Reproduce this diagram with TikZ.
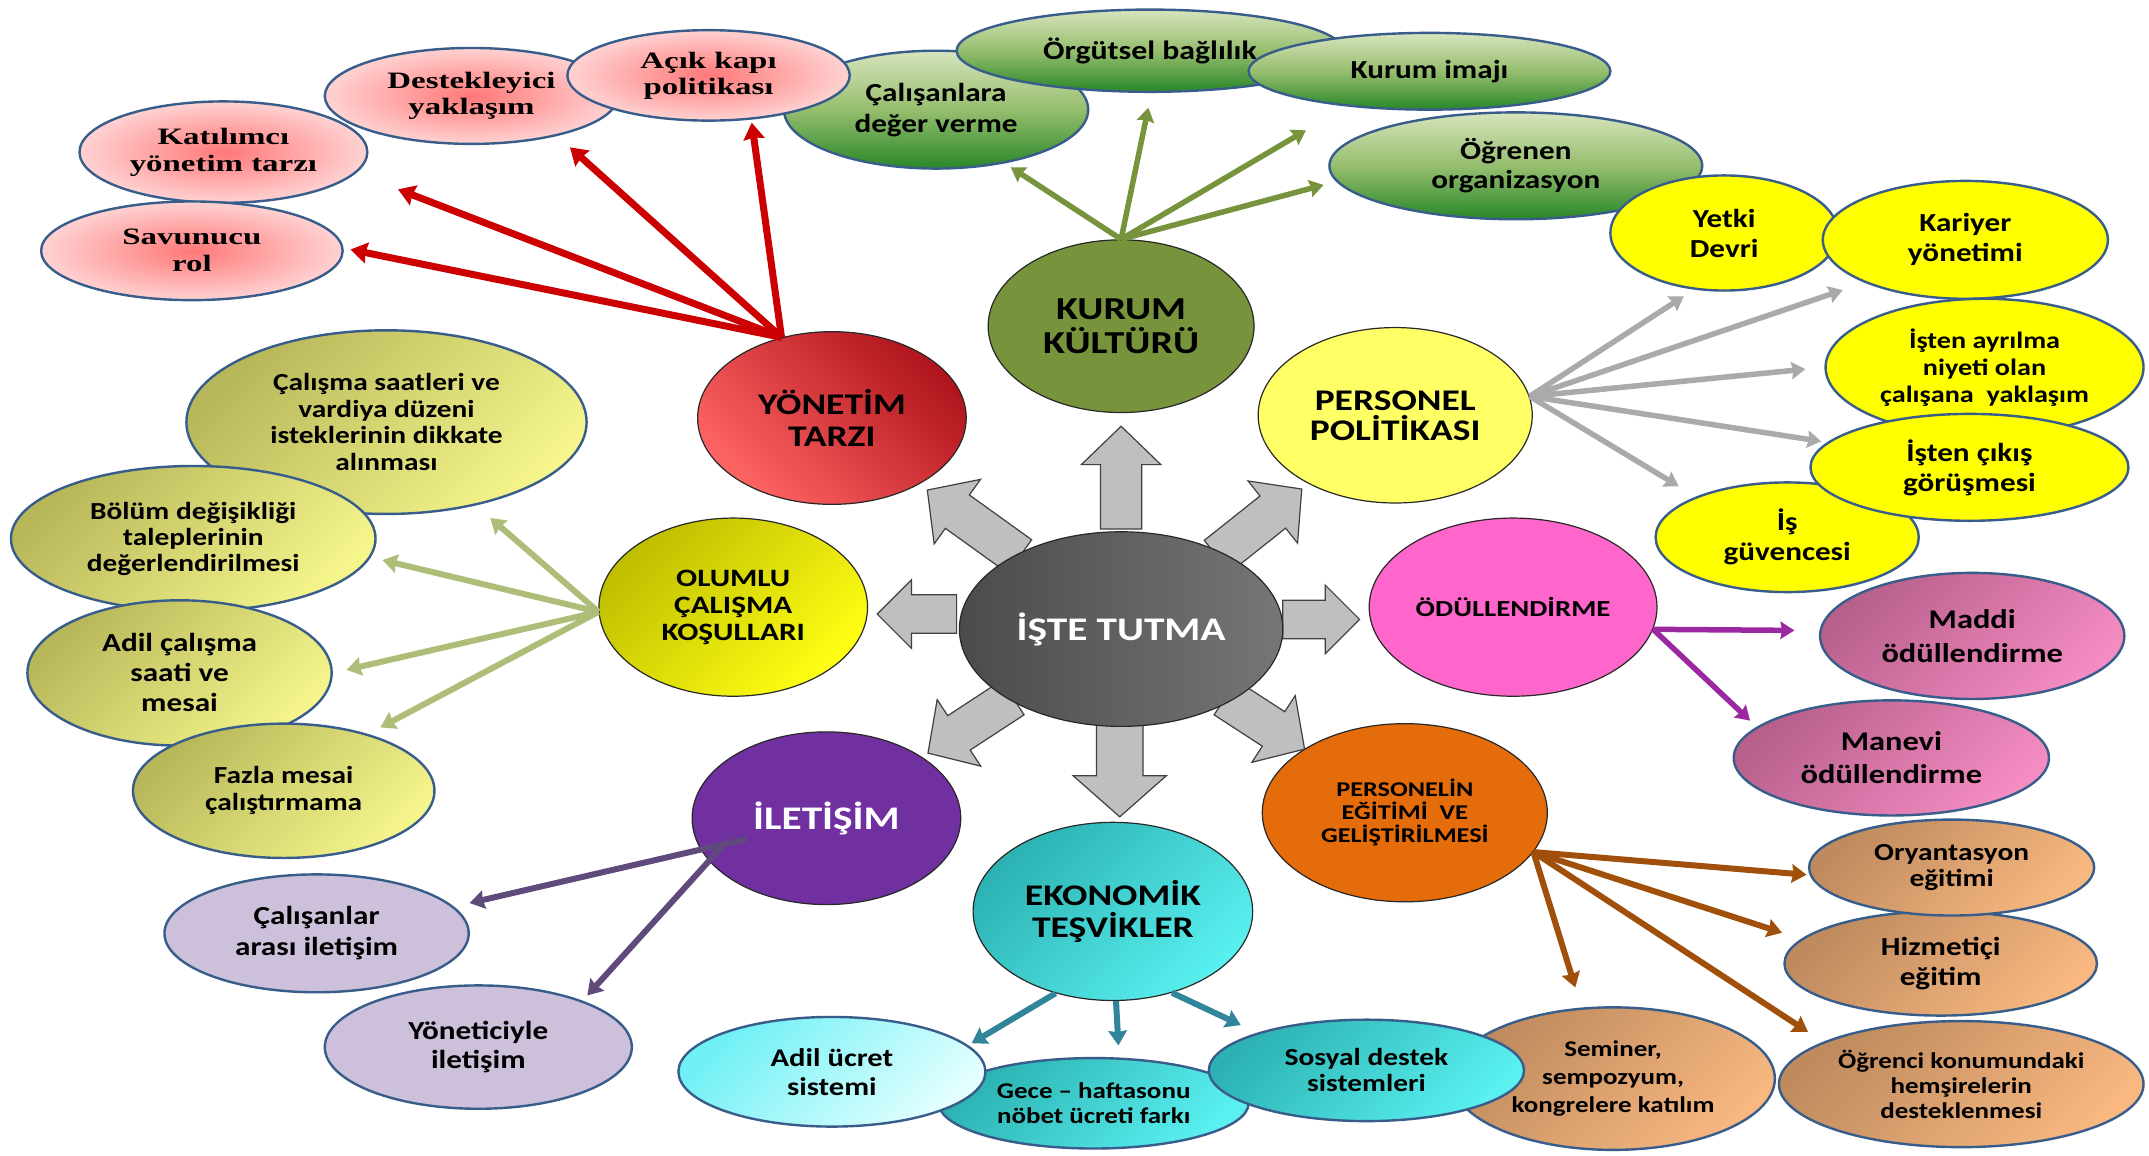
\documentclass[tikz,border=0pt]{standalone}
\usepackage{fontspec}
\setmainfont{Carlito}[FakeStretch=1.2]
\newfontfamily\hubfont{Carlito}[FakeStretch=1.25]
\newfontfamily\serfont{Liberation Serif}[FakeStretch=1.4]
\usetikzlibrary{shapes.geometric,arrows.meta}
\newcommand\setfs[2]{\fontsize{#1}{#2}\selectfont}

% outlines
\definecolor{leafline}{RGB}{56,93,138}
\definecolor{hubline}{RGB}{40,40,40}
% hub fills
\definecolor{redDark}{RGB}{176,20,28}
\definecolor{redLight}{RGB}{255,100,100}
\definecolor{kurGreen}{RGB}{119,147,60}
\definecolor{perYellow}{RGB}{255,255,102}
\definecolor{oduPink}{RGB}{255,102,204}
\definecolor{egiOrange}{RGB}{228,108,10}
\definecolor{ekoA}{RGB}{44,178,178}
\definecolor{ekoB}{RGB}{90,240,240}
\definecolor{ilePurple}{RGB}{112,48,160}
\definecolor{oluA}{RGB}{190,190,0}
\definecolor{oluB}{RGB}{255,255,20}
\definecolor{coreA}{RGB}{75,75,75}
\definecolor{coreB}{RGB}{118,118,118}
% leaf fills
\definecolor{lrIn}{RGB}{255,120,120}
\definecolor{lrOut}{RGB}{255,210,210}
\definecolor{grnTop}{RGB}{215,228,189}
\definecolor{grnMid}{RGB}{150,190,110}
\definecolor{grnBot}{RGB}{40,135,40}
\definecolor{yel}{RGB}{255,255,0}
\definecolor{mauveA}{RGB}{184,96,140}
\definecolor{mauveB}{RGB}{244,140,194}
\definecolor{tanA}{RGB}{190,138,94}
\definecolor{tanB}{RGB}{248,184,128}
\definecolor{cyLtA}{RGB}{110,240,245}
\definecolor{cyLtB}{RGB}{228,255,255}
\definecolor{lav}{RGB}{204,192,218}
\definecolor{khA}{RGB}{183,183,90}
\definecolor{khB}{RGB}{245,245,140}
% connector colours
\definecolor{redAr}{RGB}{204,0,0}
\definecolor{grnAr}{RGB}{119,147,60}
\definecolor{grayAr}{RGB}{170,170,170}
\definecolor{purAr}{RGB}{155,40,160}
\definecolor{brnAr}{RGB}{160,80,10}
\definecolor{tealAr}{RGB}{49,133,155}
\definecolor{lavAr}{RGB}{96,74,123}
\definecolor{khAr}{RGB}{174,190,120}
\definecolor{blkFill}{RGB}{191,191,191}
\definecolor{blkLine}{RGB}{64,64,64}

\begin{document}
\begin{tikzpicture}[x=1.3705pt,y=-1.3705pt,
  sz/.style 2 args={minimum width={#1*2.741pt},minimum height={#2*2.741pt}},
  hub/.style={ellipse,draw=hubline,line width=1.2pt,inner sep=0pt,align=center},
  leaf/.style={ellipse,draw=leafline,line width=2.4pt,inner sep=0pt,align=center},
  hf/.style 2 args={font=\hubfont\bfseries\setfs{#1}{#2}},
  lf/.style 2 args={font=\bfseries\setfs{#1}{#2}},
  sf/.style 2 args={font=\serfont\bfseries\setfs{#1}{#2}},
  redleaf/.style={leaf,inner color=lrIn,outer color=lrOut},
  grnleaf/.style={leaf,top color=grnTop,bottom color=grnBot,middle color=grnMid},
  yelleaf/.style={leaf,fill=yel},
  mauleaf/.style={leaf,top color=mauveA,bottom color=mauveB,shading angle=45},
  tanleaf/.style={leaf,top color=tanA,bottom color=tanB,shading angle=45},
  cyleaf/.style={leaf,top color=ekoA,bottom color=ekoB,shading angle=45},
  cyltleaf/.style={leaf,top color=cyLtA,bottom color=cyLtB,shading angle=45},
  lavleaf/.style={leaf,fill=lav},
  khleaf/.style={leaf,top color=khA,bottom color=khB,shading angle=45},
  headtip/.style={-{Stealth[length=4pt 1.8,width=4pt 2.4,inset=1.5pt]}},
  redar/.style={draw=redAr,line width=7pt,headtip},
  grnar/.style={draw=grnAr,line width=5.5pt,headtip},
  grayar/.style={draw=grayAr,line width=5.5pt,headtip},
  purar/.style={draw=purAr,line width=5.5pt,headtip},
  brnar/.style={draw=brnAr,line width=6pt,headtip},
  tealar/.style={draw=tealAr,line width=6pt,headtip},
  lavar/.style={draw=lavAr,line width=6pt,headtip},
  khar/.style={draw=khAr,line width=6pt,headtip},
  blockfill/.style={fill=blkFill,draw=blkLine,line width=1.2pt,line join=miter},
  pics/blk/.style n args={4}{code={
    \draw[blockfill] (0,-#2) -- ({#1-#4},-#2) -- ({#1-#4},-#3) -- (#1,0)
      -- ({#1-#4},#3) -- ({#1-#4},#2) -- (0,#2) -- cycle;}}
]
\useasboundingbox (0,0) rectangle (1568,843);
\fill[white] (0,0) rectangle (1568,843);

% ---------- outer ring of topics ----------
% kurum kültürü
\node[grnleaf,sz={111}{43},lf={26}{31}] (cal) at (683,80) {Çalışanlara\\değer verme};
\node[grnleaf,sz={141}{30},lf={26.5}{30}] (org) at (839,37) {Örgütsel bağlılık};
\node[grnleaf,sz={132}{28},lf={26}{30}] (kim) at (1043,52) {Kurum imajı};
\node[grnleaf,sz={136}{39},lf={26}{29}] (ogr) at (1106,121) {Öğrenen\\organizasyon};
% yönetim tarzı
\node[redleaf,sz={107}{35},sf={23.5}{26}] (des) at (344,70) {Destekleyici\\yaklaşım};
\node[redleaf,sz={103}{33},sf={23.5}{26}] (acik) at (517,55) {Açık kapı\\politikası};
\node[redleaf,sz={105}{37},sf={23.5}{27}] (kat) at (163,111) {Katılımcı\\yönetim tarzı};
\node[redleaf,sz={110}{36},sf={23.5}{27}] (sav) at (140,183) {Savunucu\\rol};
% personel politikası
\node[yelleaf,sz={83}{42},lf={26}{30}] (yet) at (1258,170) {Yetki\\Devri};
\node[yelleaf,sz={104}{43},lf={26}{30}] (kar) at (1434,175) {Kariyer\\yönetimi};
\node[yelleaf,sz={116}{50},lf={23.5}{27}] (ayr) at (1448,268) {İşten ayrılma\\niyeti olan\\çalışana\ \ yaklaşım};
\node[yelleaf,sz={96}{40},lf={26}{30}] (guv) at (1304,392) {İş\\güvencesi};
\node[yelleaf,sz={116}{39},lf={26}{30}] (cik) at (1437,341) {İşten çıkış\\görüşmesi};
% ödüllendirme
\node[mauleaf,sz={111}{46},lf={27}{34}] (mad) at (1439,464) {Maddi\\ödüllendirme};
\node[mauleaf,sz={115}{42},lf={27}{33}] (man) at (1380,553) {Manevi\\ödüllendirme};
% personelin eğitimi
\node[tanleaf,sz={114}{38},lf={26}{30}] (hiz) at (1416,703) {Hizmetiçi\\eğitim};
\node[tanleaf,sz={104}{35},lf={24.5}{26}] (ory) at (1424,633) {Oryantasyon\\eğitimi};
\node[tanleaf,sz={118}{52},lf={22.5}{28}] (sem) at (1177,787) {Seminer,\\sempozyum,\\kongrelere katılım};
\node[tanleaf,sz={133}{46},lf={22.5}{25}] (ogc) at (1431,791) {Öğrenci konumundaki\\hemşirelerin\\desteklenmesi};
% ekonomik teşvikler
\node[cyleaf,sz={113}{33},lf={22.5}{25}] (gec) at (798,805) {Gece – haftasonu\\nöbet ücreti farkı};
\node[cyltleaf,sz={112}{40},lf={25.5}{29}] (adl) at (607,782) {Adil ücret\\sistemi};
\node[cyleaf,sz={115}{37},lf={24.5}{26}] (sos) at (997,781) {Sosyal destek\\sistemleri};
% iletişim
\node[lavleaf,sz={111}{43},lf={26}{31}] (cai) at (231,681) {Çalışanlar\\arası iletişim};
\node[lavleaf,sz={112}{45},lf={26}{29}] (ytc) at (349,764) {Yöneticiyle\\iletişim};
% olumlu çalışma koşulları
\node[khleaf,sz={146}{67},lf={24.5}{26.5}] (cs) at (282,308) {Çalışma saatleri ve\\vardiya düzeni\\isteklerinin dikkate\\alınması};
\node[khleaf,sz={133}{53},lf={24.5}{26}] (bol) at (141,393) {Bölüm değişikliği\\taleplerinin\\değerlendirilmesi};
\node[khleaf,sz={111}{53},lf={26}{30}] (adc) at (131,491) {Adil çalışma\\saati ve\\mesai};
\node[khleaf,sz={110}{49},lf={24.5}{27}] (faz) at (207,577) {Fazla mesai\\çalıştırmama};

% ---------- inner ring of themes ----------
\node[hub,sz={98}{63},top color=redDark,bottom color=redLight,shading angle=-45,hf={30}{32}] (yon) at (607,305) {YÖNETİM\\TARZI};
\node[hub,sz={97}{63},fill=kurGreen,hf={32}{34}] (kur) at (818,238) {KURUM\\KÜLTÜRÜ};
\node[hub,sz={100}{64},fill=perYellow,hf={30}{30}] (per) at (1018,303) {PERSONEL\\POLİTİKASI};
\node[hub,sz={105}{65},fill=oduPink,hf={23}{25}] (odu) at (1104,443) {ÖDÜLLENDİRME};
\node[hub,sz={104}{65},fill=egiOrange,hf={21}{23}] (egi) at (1025,593) {PERSONELİN\\EĞİTİMİ\ \ VE\\GELİŞTİRİLMESİ};
\node[hub,sz={102}{65},top color=ekoA,bottom color=ekoB,shading angle=45,hf={30}{32}] (eko) at (812,665) {EKONOMİK\\TEŞVİKLER};
\node[hub,sz={98}{63},fill=ilePurple,text=white,hf={33}{35}] (ile) at (603,597) {İLETİŞİM};
\node[hub,sz={98}{65},top color=oluA,bottom color=oluB,shading angle=45,hf={25}{27}] (olu) at (535,443) {OLUMLU\\ÇALIŞMA\\KOŞULLARI};

% ---------- connectors from themes to topics ----------
\foreach \t/\a/\s in {sav/1.5/7,kat/-9.4/45,des/-25.3/17,acik/-46.8/3}
  \draw[redar,shorten >=\s pt] (yon.122) -- (\t.\a);
\foreach \t/\a/\s in {cal/-38.9/7,org/-88.6/15,kim/-157.8/47,ogr/-175.5/13}
  \draw[grnar,shorten >=\s pt] (kur.90) -- (\t.\a);
\foreach \t/\a/\s in {yet/-118.4/12,kar/-157.4/23,ayr/180/19,cik/170/6,guv/156.1/20}
  \draw[grayar,shorten >=\s pt] (per.8) -- (\t.\a);
\foreach \t/\a/\s in {mad/178/25,man/167.6/9}
  \draw[purar,shorten >=\s pt] (odu.-9) -- (\t.\a);
\foreach \t/\a/\s in {ory/-177.3/3,hiz/170.2/20,sem/114/21,ogc/163.3/18}
  \draw[brnar,shorten >=\s pt] (egi.-17) -- (\t.\a);
\draw[tealar,shorten >=4pt] (eko.-125) -- (adl.11.2);
\draw[tealar,shorten >=12pt] (eko.-88) -- (gec.61.2);
\draw[tealar,shorten >=18pt] (eko.-54.4) -- (sos.161.4);
\draw[lavar,shorten <=-47pt,shorten >=16pt] (ile.-166) -- (cai.11.9);
\draw[lavar,shorten <=-19pt,shorten >=7pt] (ile.-160) -- (ytc.24.5);
\foreach \t/\a/\s in {cs/-43.8/19,bol/-6.2/12,adc/0/14,faz/34.6/14}
  \draw[khar,shorten >=\s pt] (olu.182) -- (\t.\a);

% ---------- block arrows from the core ----------
\pic[rotate=90] at (818,386) {blk={75}{15}{29}{28}};
\pic[rotate=-90] at (817,528) {blk={68}{17}{34}{30}};
\pic[rotate=180] at (698,448) {blk={58}{14}{25}{25}};
\pic at (936,452) {blk={56}{14}{25}{25}};
\pic[rotate=144.3] at (744,406) {blk={83}{15}{29}{27}};
\pic[rotate=38.5] at (888,406) {blk={79}{15}{29}{27}};
\pic[rotate=213.2] at (739,509) {blk={74}{15}{29}{27}};
\pic[rotate=-33] at (894,509) {blk={69}{15}{29}{27}};

% ---------- core ----------
\node[hub,sz={118}{71},left color=coreA,right color=coreB,text=white,hf={33}{35}] (core) at (818,459) {İŞTE TUTMA};
\end{tikzpicture}
\end{document}
